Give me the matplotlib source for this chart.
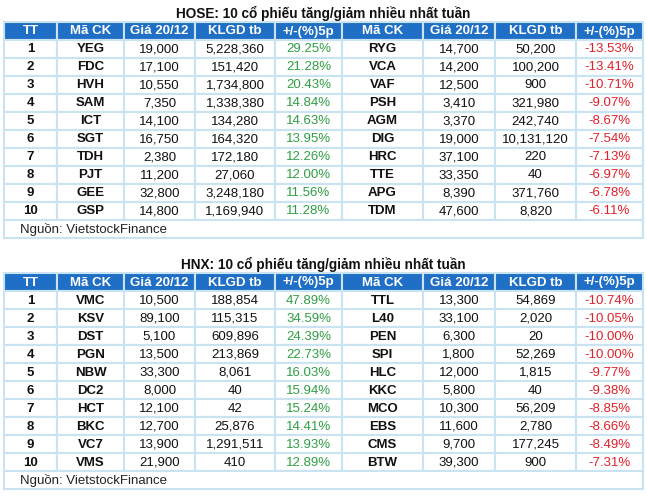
import matplotlib
matplotlib.use("Agg")
import matplotlib.pyplot as plt
from matplotlib.patches import Rectangle

plt.rcParams['font.family'] = ['Liberation Sans', 'DejaVu Sans']

# ---- data ----
headers = ["TT", "Mã CK", "Giá 20/12", "KLGD tb", "+/-(%)5p"]
source = "Nguồn: VietstockFinance"

hose_title = "HOSE: 10 cổ phiếu tăng/giảm nhiều nhất tuần"
hose_up_code = ["YEG", "FDC", "HVH", "SAM", "ICT", "SGT", "TDH", "PJT", "GEE", "GSP"]
hose_up_price = ["19,000", "17,100", "10,550", "7,350", "14,100", "16,750", "2,380", "11,200", "32,800", "14,800"]
hose_up_vol = ["5,228,360", "151,420", "1,734,800", "1,338,380", "134,280", "164,320", "172,180", "27,060", "3,248,180", "1,169,940"]
hose_up_pct = ["29.25%", "21.28%", "20.43%", "14.84%", "14.63%", "13.95%", "12.26%", "12.00%", "11.56%", "11.28%"]
hose_dn_code = ["RYG", "VCA", "VAF", "PSH", "AGM", "DIG", "HRC", "TTE", "APG", "TDM"]
hose_dn_price = ["14,700", "14,200", "12,500", "3,410", "3,370", "19,000", "37,100", "33,350", "8,390", "47,600"]
hose_dn_vol = ["50,200", "100,200", "900", "321,980", "242,740", "10,131,120", "220", "40", "371,760", "8,820"]
hose_dn_pct = ["-13.53%", "-13.41%", "-10.71%", "-9.07%", "-8.67%", "-7.54%", "-7.13%", "-6.97%", "-6.78%", "-6.11%"]

hnx_title = "HNX: 10 cổ phiếu tăng/giảm nhiều nhất tuần"
hnx_up_code = ["VMC", "KSV", "DST", "PGN", "NBW", "DC2", "HCT", "BKC", "VC7", "VMS"]
hnx_up_price = ["10,500", "89,100", "5,100", "13,500", "33,300", "8,000", "12,100", "12,700", "13,900", "21,900"]
hnx_up_vol = ["188,854", "115,315", "609,896", "213,869", "8,061", "40", "42", "25,876", "1,291,511", "410"]
hnx_up_pct = ["47.89%", "34.59%", "24.39%", "22.73%", "16.03%", "15.94%", "15.24%", "14.41%", "13.93%", "12.89%"]
hnx_dn_code = ["TTL", "L40", "PEN", "SPI", "HLC", "KKC", "MCO", "EBS", "CMS", "BTW"]
hnx_dn_price = ["13,300", "33,100", "6,300", "1,800", "12,000", "5,800", "10,300", "11,600", "9,700", "39,300"]
hnx_dn_vol = ["54,869", "2,020", "20", "52,269", "1,815", "40", "56,209", "2,780", "177,245", "900"]
hnx_dn_pct = ["-10.74%", "-10.05%", "-10.00%", "-10.00%", "-9.77%", "-9.38%", "-8.85%", "-8.66%", "-8.49%", "-7.31%"]

# ---- layout ----
W, H = 647, 496
edges = [4, 57, 124, 195, 275, 342, 423, 495, 576, 643]
row_h = 18
head_blue = "#1f6fc6"
grid = "#c9e3f3"
green = "#2f9e44"
red = "#e0202a"
fs = 9.5

fig = plt.figure(figsize=(W / 100, H / 100), dpi=100)
ax = fig.add_axes([0, 0, 1, 1])
ax.set_xlim(0, W)
ax.set_ylim(H, 0)
ax.axis("off")


def cell(x0, x1, y0, y1, fc="white"):
    ax.add_patch(Rectangle((x0, y0), x1 - x0, y1 - y0, facecolor=fc,
                           edgecolor=grid, lw=1.5))


def draw_table(top, title, up, dn):
    ax.text((edges[0] + edges[-1]) / 2, top - 9, title, ha="center", va="center",
            fontsize=9.8, fontweight="bold", color="#111111")
    hdr = headers + headers[1:]
    for i in range(9):
        cell(edges[i], edges[i + 1], top, top + row_h, head_blue)
        ax.text((edges[i] + edges[i + 1]) / 2, top + row_h / 2 + 0.5, hdr[i],
                ha="center", va="center", fontsize=fs, fontweight="bold", color="white")
    for r in range(10):
        y0 = top + row_h * (r + 1)
        vals = [str(r + 1), up[0][r], up[1][r], up[2][r], up[3][r],
                dn[0][r], dn[1][r], dn[2][r], dn[3][r]]
        for i in range(9):
            cell(edges[i], edges[i + 1], y0, y0 + row_h)
            bold = i in (0, 1, 5)
            col = "#111111"
            if i == 4:
                col = green
            elif i == 8:
                col = red
            ax.text((edges[i] + edges[i + 1]) / 2, y0 + row_h / 2 + 0.5, vals[i],
                    ha="center", va="center", fontsize=fs,
                    fontweight="bold" if bold else "normal", color=col)
    y0 = top + row_h * 11
    cell(edges[0], edges[-1], y0, y0 + row_h)
    ax.text(edges[0] + 16, y0 + row_h / 2 + 0.5, source, ha="left", va="center",
            fontsize=fs, color="#222222")


draw_table(22, hose_title,
           (hose_up_code, hose_up_price, hose_up_vol, hose_up_pct),
           (hose_dn_code, hose_dn_price, hose_dn_vol, hose_dn_pct))
draw_table(273, hnx_title,
           (hnx_up_code, hnx_up_price, hnx_up_vol, hnx_up_pct),
           (hnx_dn_code, hnx_dn_price, hnx_dn_vol, hnx_dn_pct))

fig.savefig("out.png", dpi=100)
